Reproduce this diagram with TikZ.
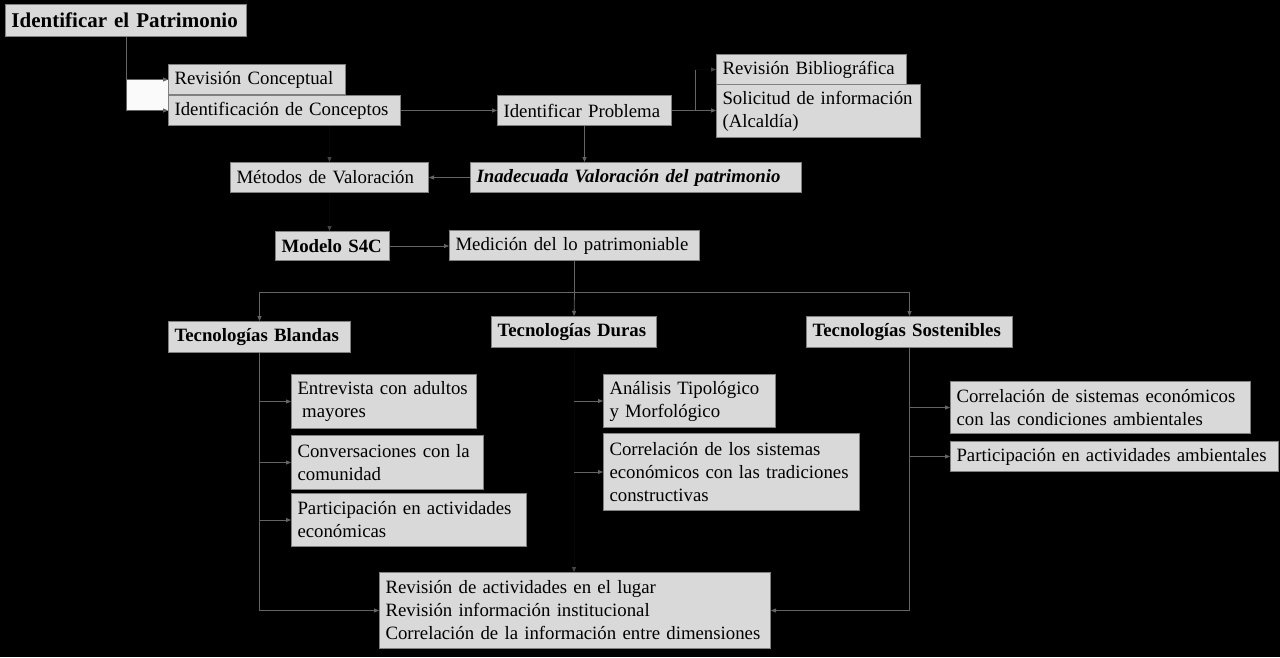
\documentclass[tikz,border=0pt]{standalone}
\usepackage{fontspec}
\setmainfont{Liberation Serif}
\usetikzlibrary{arrows.meta, calc}
\definecolor{boxfill}{RGB}{217,217,217}
\definecolor{boxedge}{RGB}{128,128,128}
\definecolor{linkgray}{RGB}{100,100,100}
\definecolor{faintgray}{RGB}{6,6,6}
\definecolor{fainttip}{RGB}{70,70,70}
\newcommand{\boxfont}{\fontsize{18.8}{23}\selectfont}
\newcommand{\titlefont}{\fontsize{21}{25}\selectfont\bfseries}

\begin{document}
\begin{tikzpicture}[
  x=1pt, y=-1pt,
  box/.style 2 args={rectangle, draw=boxedge, line width=1pt, fill=boxfill, anchor=north west,
    inner xsep=6pt, inner ysep=1pt, align=left, text width=#1, minimum height=#2, font=\boxfont},
  head/.style 2 args={box={#1}{#2}, font=\boxfont\bfseries},
  line/.style={draw=linkgray, line width=0.8pt},
  link/.style={line, -{Triangle[length=5pt,width=4pt]}},
  faintlink/.style={draw=faintgray, line width=0.8pt, -{Triangle[length=5pt,width=4pt,color=fainttip]}}
]
  \fill[black] (0,0) rectangle (1280,657);
  \useasboundingbox (0,0) rectangle (1280,657);

  \node[box={229pt}{32pt}, font=\titlefont] (patr) at (5,4) {Identificar el Patrimonio};
  \node[box={165pt}{30pt}] (revc) at (168,64) {Revisión Conceptual};
  \node[box={220pt}{30pt}] (idc) at (168,95) {Identificación de Conceptos};
  \node[box={162pt}{30pt}] (idp) at (497,95) {Identificar Problema};
  \node[box={178pt}{30pt}] (revb) at (716,54) {Revisión Bibliográfica};
  \node[box={192pt}{53pt}] (sol) at (716,84) {\mbox{Solicitud de información}\\(Alcaldía)};
  \node[box={319pt}{30pt}, font=\boxfont\bfseries\itshape] (inad) at (470,162) {Inadecuada Valoración del patrimonio};
  \node[box={186pt}{30pt}] (met) at (230,162) {Métodos de Valoración};
  \node[head={102pt}{29pt}] (mod) at (275,231) {Modelo S4C};
  \node[box={238pt}{30pt}] (med) at (449,230) {Medición del lo patrimoniable};

  \node[head={170pt}{31pt}] (tb) at (168,321) {Tecnologías Blandas};
  \node[head={153pt}{31pt}] (td) at (491,316) {Tecnologías Duras};
  \node[head={194pt}{31pt}] (ts) at (806,316) {Tecnologías Sostenibles};

  \node[box={173pt}{54pt}] (ent) at (291,374) {Entrevista con adultos\\\hspace*{0.25em}mayores};
  \node[box={180pt}{54pt}] (conv) at (291,435) {Conversaciones con la\\comunidad};
  \node[box={223pt}{53pt}] (part) at (291,493) {Participación en actividades\\económicas};
  \node[box={160pt}{53pt}] (ana) at (603,374) {Análisis Tipológico\\y Morfológico};
  \node[box={244pt}{77pt}] (corr) at (603,433) {Correlación de los sistemas\\económicos con las tradiciones\\constructivas};
  \node[box={288pt}{52pt}] (cse) at (950,381) {Correlación de sistemas económicos\\con las condiciones ambientales};
  \node[box={316pt}{30pt}] (pam) at (950,441) {Participación en actividades ambientales};
  \node[box={379pt}{76pt}] (rev) at (379,572) {Revisión de actividades en el lugar\\Revisión información institucional\\Correlación de la información entre dimensiones};

  \fill[white!96!gray] (patr.south |- revc.west) rectangle (idc.west);
  \draw[link] (patr.south) |- (revc.west);
  \draw[link] (patr.south) |- (idc.west);
  \draw[link] (idc) -- (idp);
  \draw[link] (idp.east) -- (sol.west |- idp.east);
  \draw[line] ([xshift=23pt]idp.east) -- ([xshift=23pt]idp.east |- revb.west);
  \draw[faintlink] ([xshift=23pt]idp.east |- revb.west) -- (revb.west);
  \draw[link] (idp.south) -- (idp.south |- inad.north);
  \draw[link] (inad.west) -- (met.east);
  \draw[faintlink] (idc.south -| met.north) -- (met.north);
  \draw[faintlink] (met.south) -- (met.south |- mod.north);
  \draw[link] (mod.east) -- (mod.east -| med.west);

  \coordinate (bus) at ($(med.south)+(0,31)$);
  \draw[line] (med.south) -- (bus);
  \draw[link] (bus) -| (tb.north);
  \draw[link] (bus) -- (td.north);
  \draw[link] (bus) -| (ts.north);

  \draw[link] (tb.south) |- (rev.west);
  \draw[link] (tb.south |- ent.west) -- (ent.west);
  \draw[link] (tb.south |- conv.west) -- (conv.west);
  \draw[link] (tb.south |- part.west) -- (part.west);

  \draw[faintlink] (td.south) -- (td.south |- rev.north);
  \draw[link] (td.south |- ana.west) -- (ana.west);
  \draw[link] (td.south |- corr.west) -- (corr.west);

  \draw[link] (ts.south) |- (rev.east);
  \draw[link] (ts.south |- cse.west) -- (cse.west);
  \draw[link] (ts.south |- pam.west) -- (pam.west);
\end{tikzpicture}
\end{document}
